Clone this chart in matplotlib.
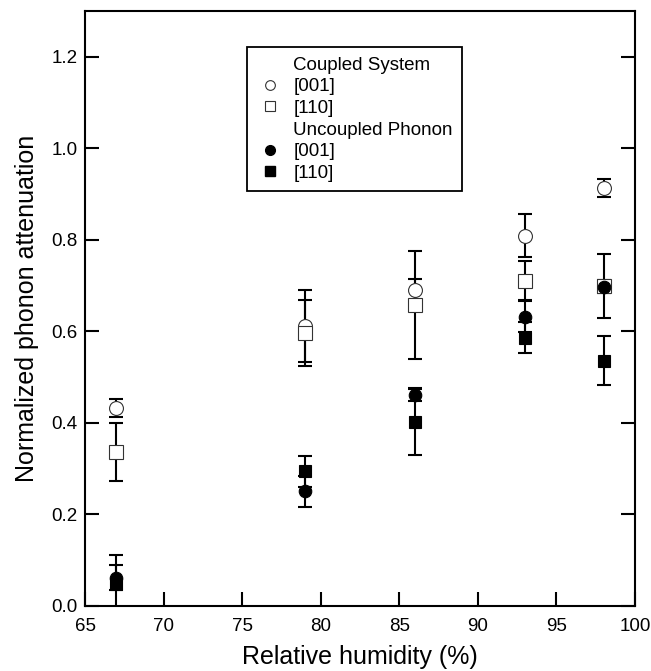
import matplotlib
matplotlib.use("Agg")
import matplotlib.pyplot as plt
from matplotlib.lines import Line2D

plt.rcParams['font.family'] = ['Liberation Sans', 'DejaVu Sans']

humidity = [67, 79, 86, 93, 98]

coupled_001 = [0.432, 0.612, 0.691, 0.809, 0.913]
coupled_001_err = [0.020, 0.078, 0.024, 0.047, 0.020]

coupled_110 = [0.337, 0.596, 0.658, 0.711, 0.700]
coupled_110_err = [0.063, 0.072, 0.118, 0.043, 0.070]

uncoupled_001 = [0.062, 0.251, 0.461, 0.632, 0.698]
uncoupled_001_err = [0.027, 0.034, 0.014, 0.034, 0.014]

uncoupled_110 = [0.048, 0.294, 0.403, 0.586, 0.536]
uncoupled_110_err = [0.063, 0.033, 0.073, 0.034, 0.053]

x_ticks = [65, 70, 75, 80, 85, 90, 95, 100]
y_ticks = [0.0, 0.2, 0.4, 0.6, 0.8, 1.0, 1.2]

fig = plt.figure(figsize=(6.51, 6.71), dpi=100)
ax = fig.add_axes([0.1306, 0.0969, 0.8448, 0.8867])

series = [
    (coupled_001, coupled_001_err, 'o', 'white', 10),
    (coupled_110, coupled_110_err, 's', 'white', 9.5),
    (uncoupled_001, uncoupled_001_err, 'o', 'black', 9),
    (uncoupled_110, uncoupled_110_err, 's', 'black', 9),
]

for i, (vals, errs, mk, fc, ms) in enumerate(series):
    ax.errorbar(humidity, vals, yerr=errs, fmt='none', ecolor='black',
                elinewidth=1.5, capsize=4.7, capthick=1.5, zorder=2 + i * 0.1)
for i, (vals, errs, mk, fc, ms) in enumerate(series):
    ax.plot(humidity, vals, linestyle='none', marker=mk, markersize=ms,
            markerfacecolor=fc, markeredgecolor='#333333' if fc == 'white' else 'black',
            markeredgewidth=0.8, zorder=3 + i * 0.1)

ax.set_xlim(65, 100)
ax.set_ylim(0, 1.3)
ax.set_xticks(x_ticks)
ax.set_xticklabels([str(t) for t in x_ticks])
ax.set_yticks(y_ticks)
ax.set_yticklabels([f"{t:.1f}" for t in y_ticks])

ax.tick_params(axis='both', direction='in', length=10, width=1.5,
               labelsize=13.5)
ax.tick_params(axis='x', pad=9)
ax.tick_params(axis='y', pad=5.5, right=True)
for sp in ax.spines.values():
    sp.set_linewidth(1.5)

ax.set_xlabel('Relative humidity (%)', fontsize=18, labelpad=7)
ax.set_ylabel('Normalized phonon attenuation', fontsize=18, labelpad=9)

blank = Line2D([], [], linestyle='none', marker=None)
handles = [
    blank,
    Line2D([], [], linestyle='none', marker='o', markersize=7,
           markerfacecolor='white', markeredgecolor='#333333', markeredgewidth=0.8),
    Line2D([], [], linestyle='none', marker='s', markersize=7,
           markerfacecolor='white', markeredgecolor='#333333', markeredgewidth=0.8),
    blank,
    Line2D([], [], linestyle='none', marker='o', markersize=7,
           markerfacecolor='black', markeredgecolor='black'),
    Line2D([], [], linestyle='none', marker='s', markersize=7,
           markerfacecolor='black', markeredgecolor='black'),
]
labels = ['Coupled System', '[001]', '[110]', 'Uncoupled Phonon', '[001]', '[110]']
leg = ax.legend(handles, labels, loc='upper left', bbox_to_anchor=(0.295, 0.939),
                borderaxespad=0, fontsize=13.5, frameon=True, fancybox=False,
                framealpha=1, edgecolor='black', handlelength=1.45,
                handletextpad=0.5, labelspacing=0.24, borderpad=0.5)
leg.get_frame().set_linewidth(1.3)

fig.savefig('out.png', dpi=100)
